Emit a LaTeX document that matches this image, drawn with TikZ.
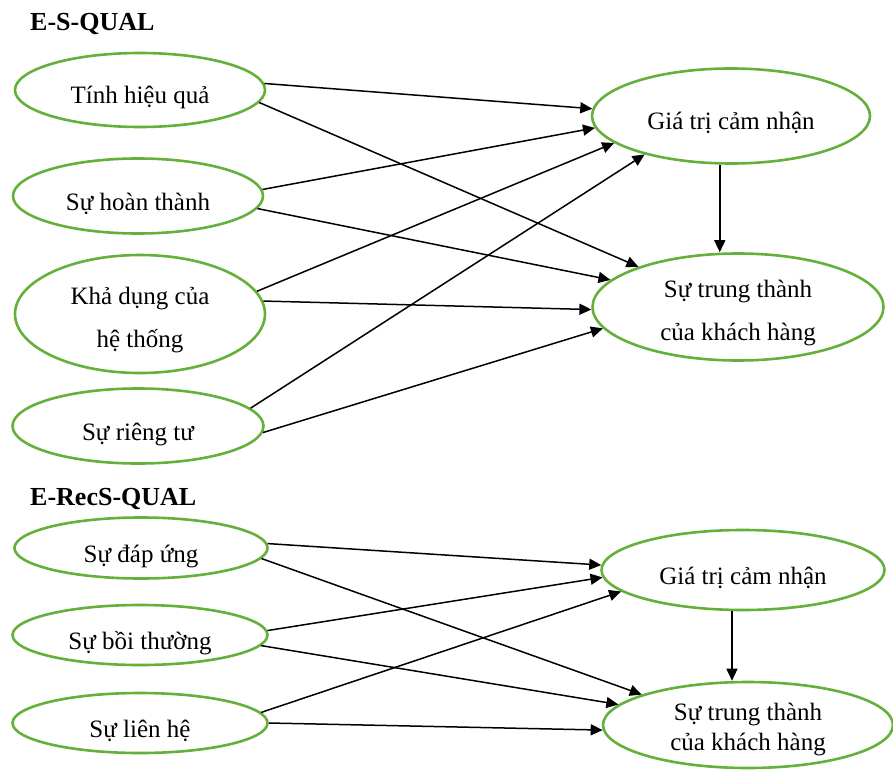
\documentclass[tikz,border=0pt]{standalone}
\usepackage{fontspec}
\setmainfont{Liberation Serif}
\usetikzlibrary{shapes.geometric,arrows.meta}
\definecolor{ovalgreen}{RGB}{100,176,58}
\begin{document}
\begin{tikzpicture}[x=1pt,y=-1pt,
  oval/.style={ellipse,draw=ovalgreen,line width=2.6pt,inner sep=0pt,align=center,
               font=\fontsize{25}{43}\selectfont,text height=30pt,text depth=2pt},
  twoline/.style={text height=71pt,text depth=4pt},
  arr/.style={-{Triangle[length=12pt,width=11pt]},line width=1.5pt},
  heading/.style={anchor=base west,inner sep=0pt,font=\fontsize{26}{30}\selectfont\bfseries}]
\useasboundingbox (0,0) rectangle (893,770);

% ---------- E-S-QUAL ----------
\node[heading] (h1) at (30,31) {E-S-QUAL};

\node[oval,minimum width=250pt,minimum height=74pt]  (t1) at (140,90)  {Tính hiệu quả};
\node[oval,minimum width=250pt,minimum height=75pt]  (t2) at (138,196) {Sự hoàn thành};
\node[oval,twoline,minimum width=250pt,minimum height=118pt] (t3) at (140,314) {Khả dụng của\\hệ thống};
\node[oval,minimum width=251pt,minimum height=75pt]  (t4) at (138,426) {Sự riêng tư};

\node[oval,minimum width=278pt,minimum height=95pt]  (g1) at (731,116) {Giá trị cảm nhận};
\node[oval,twoline,minimum width=291pt,minimum height=107pt] (s1) at (738,307) {Sự trung thành\\của khách hàng};

\draw[arr] (t1.3)  -- (g1.177);
\draw[arr] (t1.-6) -- (s1.158);
\draw[arr] (t2.3)  -- (g1.185);
\draw[arr] (t2.-6) -- (s1.168);
\draw[arr] (t3.11) -- (g1.193);
\draw[arr] (t3.6)  -- (s1.181);
\draw[arr] (t4.9)  -- (g1.204);
\draw[arr] (t4.-3) -- (s1.189);
\draw[arr] (g1.257) -- (g1.257 |- s1.north);

% ---------- E-RecS-QUAL ----------
\node[heading] (h2) at (30,505) {E-RecS-QUAL};

\node[oval,minimum width=253pt,minimum height=61pt] (b1) at (141,548) {Sự đáp ứng};
\node[oval,minimum width=255pt,minimum height=60pt] (b2) at (140,635) {Sự bồi thường};
\node[oval,minimum width=255pt,minimum height=60pt] (b3) at (140,723) {Sự liên hệ};

\node[oval,minimum width=283pt,minimum height=80pt] (g2) at (743,570) {Giá trị cảm nhận};
\node[oval,minimum width=290pt,minimum height=86pt,font=\fontsize{25}{30}\selectfont,
      text height=54pt,text depth=4pt]
     (s2) at (748,725) {Sự trung thành\\của khách hàng};

\draw[arr] (b1.2)  -- (g2.178);
\draw[arr] (b1.-5) -- (s2.164);
\draw[arr] (b2.2)  -- (g2.183);
\draw[arr] (b2.-5) -- (s2.171);
\draw[arr] (b3.5)  -- (g2.190);
\draw[arr] (b3.0)  -- (s2.182);
\draw[arr] (g2.255) -- (g2.255 |- s2.north);
\end{tikzpicture}
\end{document}
